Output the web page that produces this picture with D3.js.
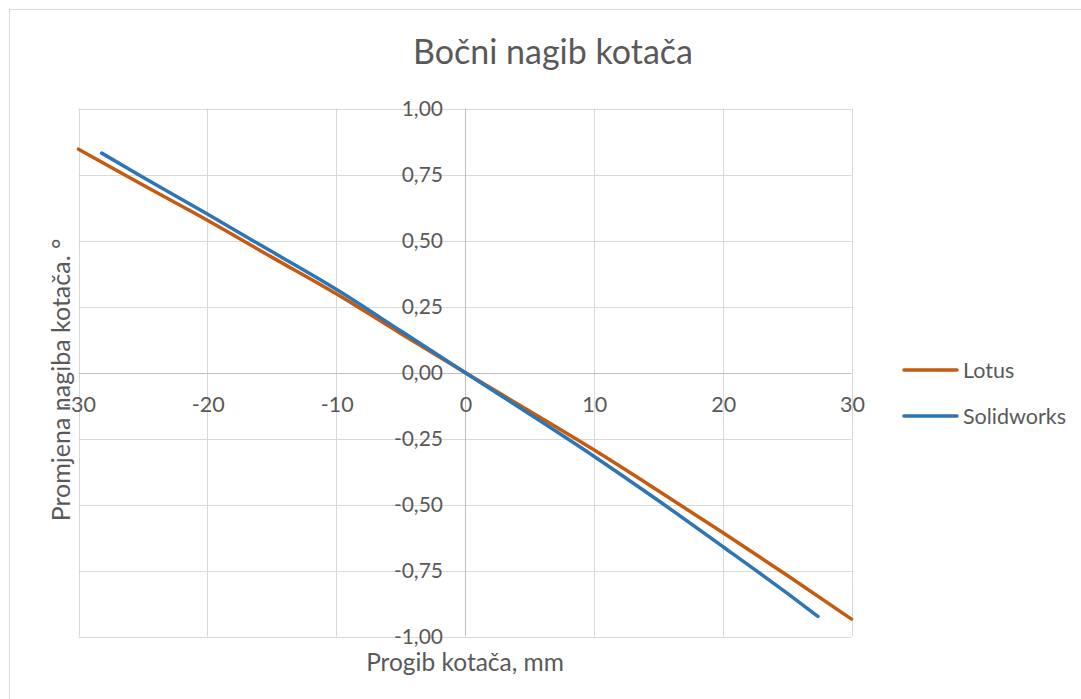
<!DOCTYPE html>
<html>
<head>
<meta charset="utf-8">
<script src="https://cdn.jsdelivr.net/npm/d3@7"></script>
<style>
  html, body { margin: 0; padding: 0; background: #fff; }
  svg { display: block; }
  text { font-family: Lato, "Open Sans", sans-serif; fill: #595959; }
</style>
</head>
<body>
<svg id="chart" width="1081" height="699"></svg>
<script>
// ---- data ----
const title = "Bočni nagib kotača";
const xAxisTitle = "Progib kotača, mm";
const yAxisTitle = "Promjena nagiba kotača. °";
const seriesNames = ["Lotus", "Solidworks"];
const seriesColors = ["#C55A11", "#2E75B6"];

const lotusX = [-30, -25, -20, -15, -10, -5, 0, 5, 10, 15, 20, 25, 30];
const lotusY = [0.846, 0.71, 0.577, 0.437, 0.298, 0.148, 0, -0.146, -0.293, -0.448, -0.606, -0.768, -0.934];

const solidX = [-28.2, -25, -20, -15, -10, -5, 0, 5, 10, 15, 20, 25, 27.4];
const solidY = [0.831, 0.74, 0.600, 0.458, 0.315, 0.158, 0, -0.157, -0.317, -0.485, -0.659, -0.836, -0.924];

const xTicks = [-30, -20, -10, 0, 10, 20, 30];
const yTicks = [1, 0.75, 0.5, 0.25, 0, -0.25, -0.5, -0.75, -1];

// ---- layout ----
const svg = d3.select("#chart");
const W = 1081, H = 699;

// outer chart frame
svg.append("rect")
  .attr("x", 9.5).attr("y", 9.5)
  .attr("width", W + 20).attr("height", H + 20)
  .attr("fill", "#fff").attr("stroke", "#d9d9d9").attr("stroke-width", 1);

const x = d3.scaleLinear().domain([-30, 30]).range([78.5, 851.5]);
const y = d3.scaleLinear().domain([-1, 1]).range([636.5, 108.5]);

const fmt = v => d3.format(".2f")(v).replace(".", ",").replace("−", "-");

// gridlines
const g = svg.append("g");
g.selectAll(".hgrid").data(yTicks.filter(v => v !== 0)).join("line")
  .attr("x1", x(-30)).attr("x2", x(30))
  .attr("y1", d => Math.round(y(d)) + 0.5).attr("y2", d => Math.round(y(d)) + 0.5)
  .attr("stroke", "#d9d9d9").attr("stroke-width", 1);
g.selectAll(".vgrid").data(xTicks.filter(v => v !== 0)).join("line")
  .attr("x1", d => Math.round(x(d)) + 0.5).attr("x2", d => Math.round(x(d)) + 0.5)
  .attr("y1", y(1)).attr("y2", y(-1))
  .attr("stroke", "#d9d9d9").attr("stroke-width", 1);

// zero axes
g.append("line")
  .attr("x1", x(-30)).attr("x2", x(30))
  .attr("y1", Math.round(y(0)) + 0.5).attr("y2", Math.round(y(0)) + 0.5)
  .attr("stroke", "#bfbfbf").attr("stroke-width", 1);
g.append("line")
  .attr("x1", Math.round(x(0)) + 0.5).attr("x2", Math.round(x(0)) + 0.5)
  .attr("y1", y(1)).attr("y2", y(-1))
  .attr("stroke", "#bfbfbf").attr("stroke-width", 1);

// y tick labels (right aligned at the zero axis)
svg.append("g").selectAll("text").data(yTicks).join("text")
  .attr("x", x(0) - 22)
  .attr("y", d => y(d))
  .attr("dy", "0.35em")
  .attr("text-anchor", "end")
  .attr("font-size", 21)
  .text(d => fmt(d));

// x tick labels (below zero axis)
svg.append("g").selectAll("text").data(xTicks).join("text")
  .attr("x", d => x(d) + 1)
  .attr("y", y(0) + 39)
  .attr("text-anchor", "middle")
  .attr("font-size", 21.5)
  .text(d => String(d));

// lines
const line = d3.line().x(d => x(d[0])).y(d => y(d[1])).curve(d3.curveMonotoneX);
const lotusData = lotusX.map((v, i) => [v, lotusY[i]]);
const solidData = solidX.map((v, i) => [v, solidY[i]]);

svg.append("path").datum(lotusData)
  .attr("d", line).attr("fill", "none")
  .attr("stroke", seriesColors[0]).attr("stroke-width", 3.5)
  .attr("stroke-linecap", "round").attr("stroke-linejoin", "round");
svg.append("path").datum(solidData)
  .attr("d", line).attr("fill", "none")
  .attr("stroke", seriesColors[1]).attr("stroke-width", 3.5)
  .attr("stroke-linecap", "round").attr("stroke-linejoin", "round");

// title
svg.append("text")
  .attr("x", 553).attr("y", 64)
  .attr("text-anchor", "middle")
  .attr("font-size", 34)
  .text(title);

// axis titles
svg.append("text")
  .attr("x", 465).attr("y", 671)
  .attr("text-anchor", "middle")
  .attr("font-size", 24.5)
  .text(xAxisTitle);

svg.append("text")
  .attr("transform", "translate(70,380) rotate(-90)")
  .attr("text-anchor", "middle")
  .attr("font-size", 25)
  .text(yAxisTitle);

// legend
const legendY = [370, 416];
const lg = svg.append("g");
seriesNames.forEach((name, i) => {
  lg.append("line")
    .attr("x1", 904).attr("x2", 957)
    .attr("y1", legendY[i]).attr("y2", legendY[i])
    .attr("stroke", seriesColors[i]).attr("stroke-width", 3.5)
    .attr("stroke-linecap", "round");
  lg.append("text")
    .attr("x", 963).attr("y", legendY[i])
    .attr("dy", "0.35em")
    .attr("font-size", 21.5)
    .text(name);
});
</script>
</body>
</html>
